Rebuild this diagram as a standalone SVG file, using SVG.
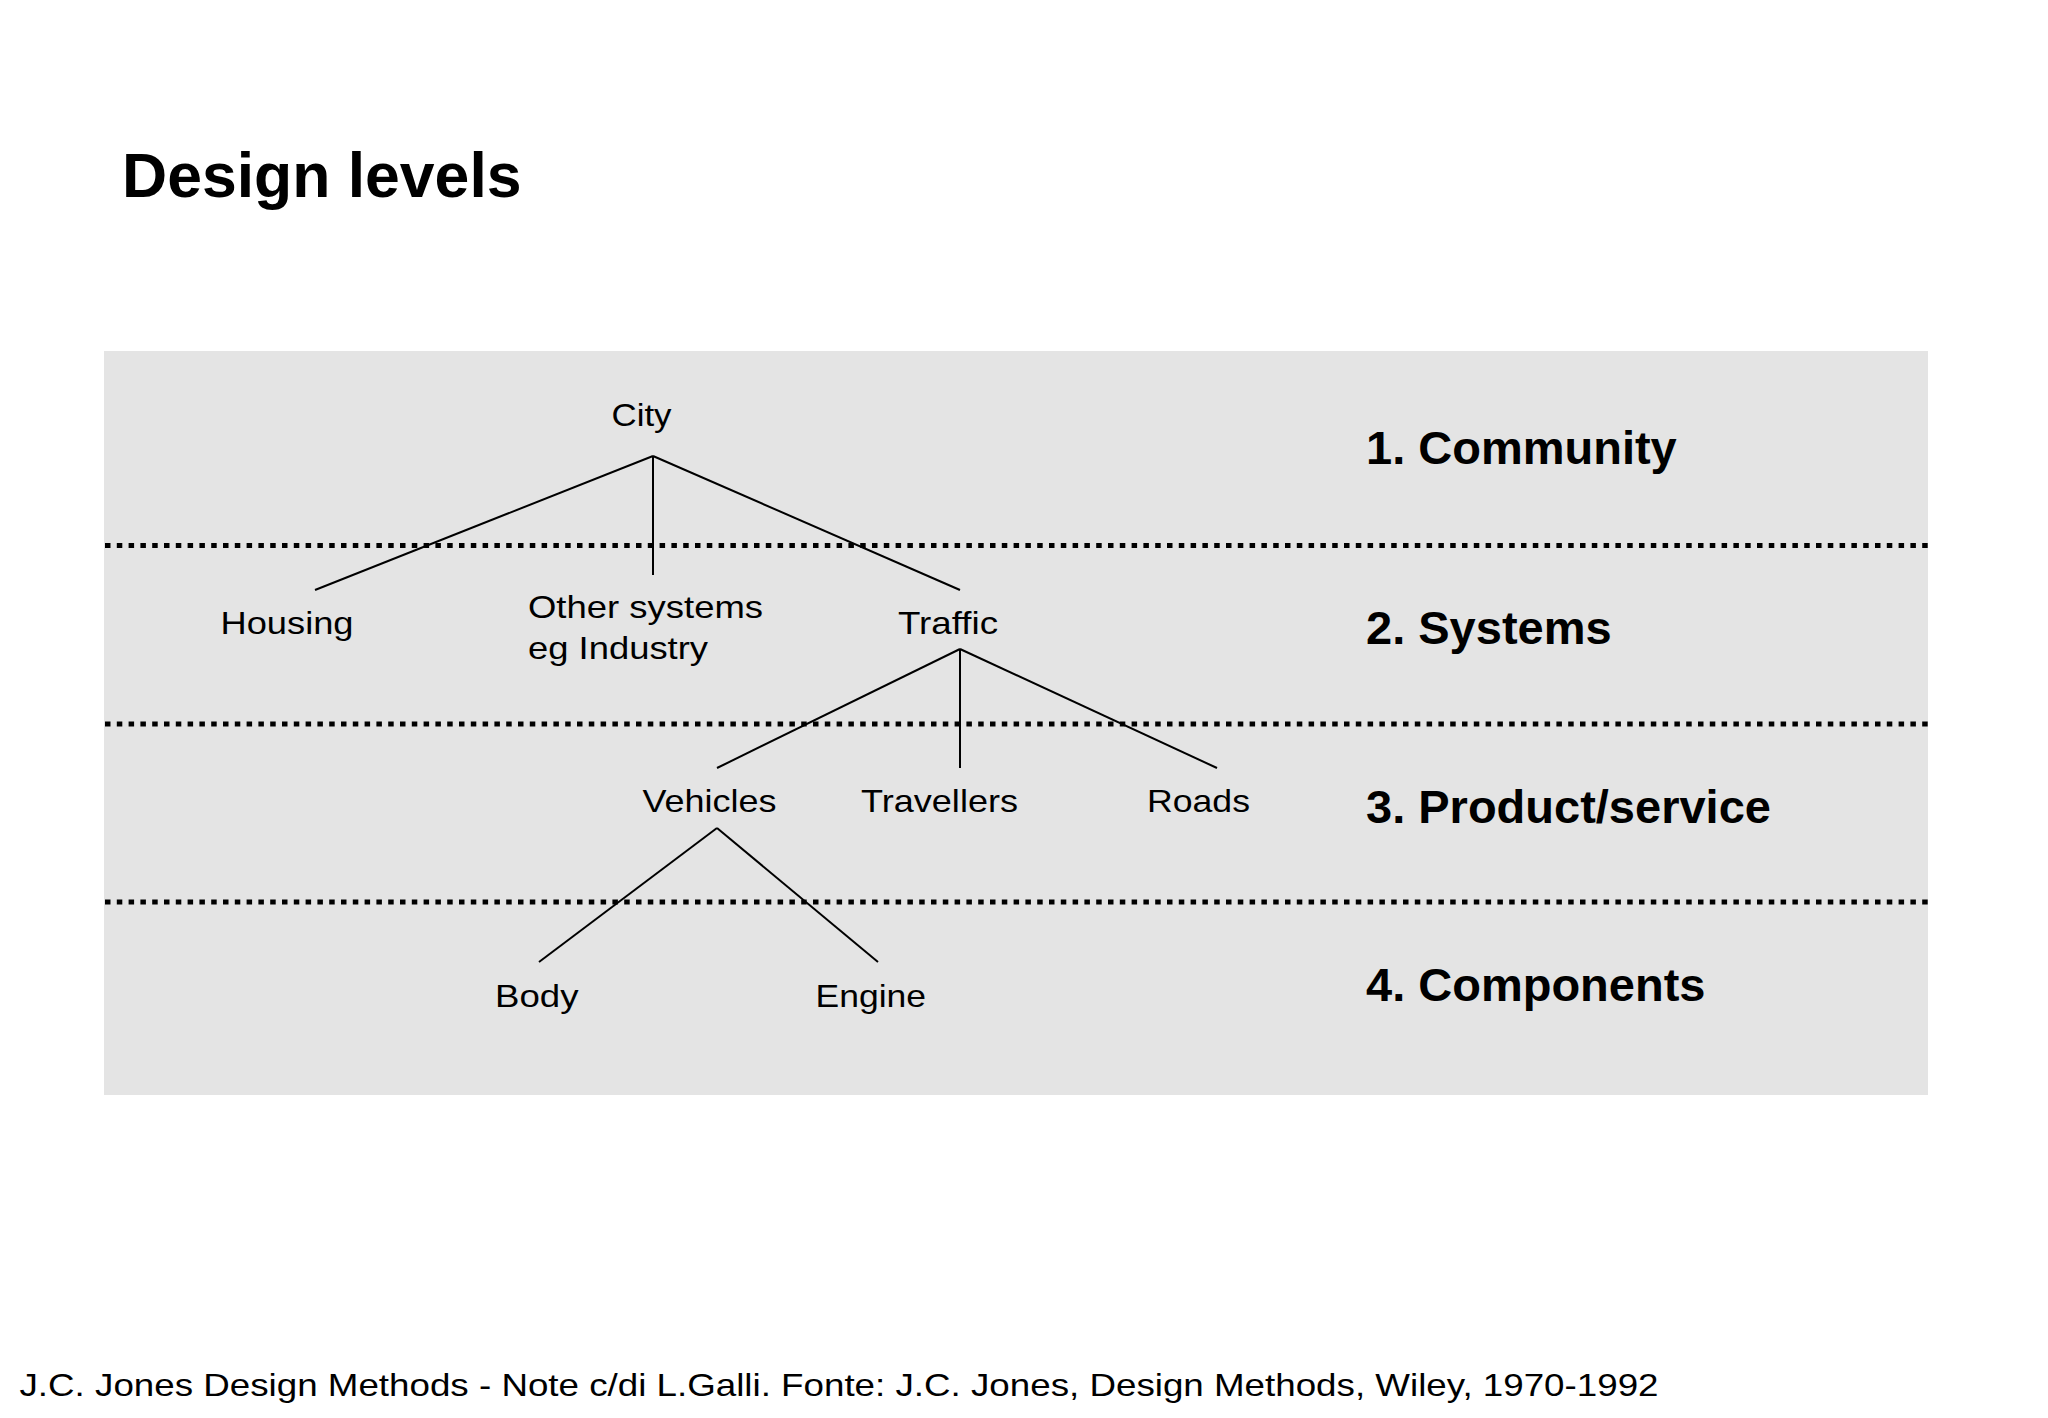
<svg xmlns="http://www.w3.org/2000/svg" width="2048" height="1418" viewBox="0 0 2048 1418">
<style>
.title{font-family:"Liberation Sans",Arial,sans-serif;font-weight:bold;font-size:62.5px;fill:#000}
.level{font-family:"Liberation Sans",Arial,sans-serif;font-weight:bold;font-size:47px;fill:#000}
.node{font-family:"Liberation Sans",Arial,sans-serif;font-size:32px;fill:#000}
.foot{font-family:"Liberation Sans",Arial,sans-serif;font-size:32px;fill:#000}
.sep{stroke:#000;stroke-width:5;stroke-dasharray:5.5 6.3;fill:none}
.conn line{stroke:#000;stroke-width:2;fill:none}
</style>
<rect x="0" y="0" width="2048" height="1418" fill="#ffffff"/>
<text class="title" x="122" y="197">Design levels</text>
<rect id="panel" x="104" y="351" width="1824" height="744" fill="#e4e4e4"/>
<g id="separators">
<line class="sep" x1="105" y1="545.5" x2="1928" y2="545.5"/>
<line class="sep" x1="105" y1="724" x2="1928" y2="724"/>
<line class="sep" x1="105" y1="902" x2="1928" y2="902"/>
</g>
<g id="levels">
<text class="level" x="1366" y="464">1. Community</text>
<text class="level" x="1366" y="644">2. Systems</text>
<text class="level" x="1366" y="823">3. Product/service</text>
<text class="level" x="1366" y="1001">4. Components</text>
</g>
<g id="connectors" class="conn">
<line x1="653" y1="456" x2="315" y2="590"/>
<line x1="653" y1="456" x2="653" y2="575"/>
<line x1="653" y1="456" x2="960" y2="590"/>
<line x1="960" y1="649" x2="717" y2="768"/>
<line x1="960" y1="649" x2="960" y2="768"/>
<line x1="960" y1="649" x2="1217" y2="768"/>
<line x1="717" y1="828" x2="539" y2="962"/>
<line x1="717" y1="828" x2="878" y2="962"/>
</g>
<g id="node-city"><text class="node" x="611.5" y="426" textLength="60" lengthAdjust="spacingAndGlyphs">City</text></g>
<g id="node-housing"><text class="node" x="220.5" y="634" textLength="133" lengthAdjust="spacingAndGlyphs">Housing</text></g>
<g id="node-other"><text class="node" x="528" y="618" textLength="235" lengthAdjust="spacingAndGlyphs">Other systems</text><text class="node" x="528" y="659" textLength="180" lengthAdjust="spacingAndGlyphs">eg Industry</text></g>
<g id="node-traffic"><text class="node" x="898" y="634" textLength="100" lengthAdjust="spacingAndGlyphs">Traffic</text></g>
<g id="node-vehicles"><text class="node" x="642.5" y="812" textLength="134" lengthAdjust="spacingAndGlyphs">Vehicles</text></g>
<g id="node-travellers"><text class="node" x="861" y="812" textLength="157" lengthAdjust="spacingAndGlyphs">Travellers</text></g>
<g id="node-roads"><text class="node" x="1147" y="812" textLength="103" lengthAdjust="spacingAndGlyphs">Roads</text></g>
<g id="node-body"><text class="node" x="495" y="1007" textLength="83.5" lengthAdjust="spacingAndGlyphs">Body</text></g>
<g id="node-engine"><text class="node" x="815.5" y="1007" textLength="110.5" lengthAdjust="spacingAndGlyphs">Engine</text></g>
<text class="foot" x="19.5" y="1396" textLength="1639" lengthAdjust="spacingAndGlyphs">J.C. Jones Design Methods - Note c/di L.Galli. Fonte: J.C. Jones, Design Methods, Wiley, 1970-1992</text>
</svg>
